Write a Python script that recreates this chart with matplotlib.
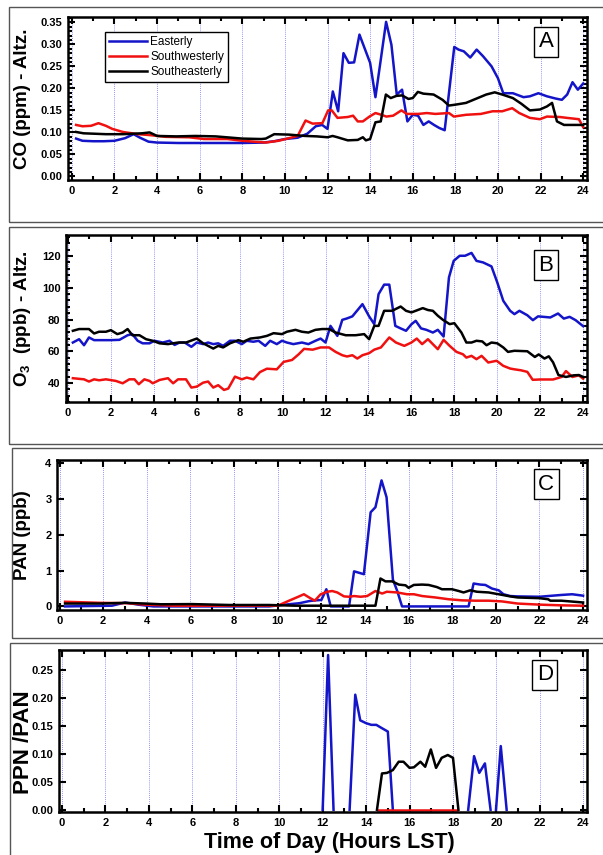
import matplotlib
matplotlib.use("Agg")
import matplotlib.pyplot as plt
import numpy as np
from matplotlib.ticker import MultipleLocator
from matplotlib.patches import Rectangle

plt.rcParams['font.family'] = ['Liberation Sans', 'DejaVu Sans']
plt.rcParams['mathtext.fontset'] = 'custom'
plt.rcParams['mathtext.bf'] = 'Liberation Sans:bold'
plt.rcParams['mathtext.rm'] = 'Liberation Sans'

# Data (hours LST)
series_names = ["Easterly", "Southwesterly", "Southeasterly"]
hour_ticks = list(range(0, 25, 2))

# A: CO (ppm)
co_east_t = [0.2, 0.5, 1.0, 1.5, 2.0, 2.5, 2.9, 3.2, 3.6, 4.0, 5.0, 6.0, 7.0, 8.0, 9.0,
             9.5, 10.0, 10.6, 11.05, 11.45, 11.75, 12.0, 12.25, 12.5, 12.75, 13.0, 13.25,
             13.5, 14.0, 14.25, 14.5, 14.75, 15.0, 15.25, 15.5, 15.75, 16.0, 16.25, 16.5,
             16.75, 17.0, 17.25, 17.5, 17.95, 18.15, 18.4, 18.7, 19.0, 19.3, 19.7, 20.0,
             20.25, 20.7, 21.2, 21.5, 21.9, 22.3, 22.7, 23.0, 23.25, 23.5, 23.75, 24.0]
co_east_v = [0.086, 0.081, 0.080, 0.080, 0.081, 0.087, 0.096, 0.088, 0.079, 0.077, 0.076,
             0.076, 0.076, 0.076, 0.077, 0.080, 0.085, 0.088, 0.097, 0.114, 0.117, 0.108,
             0.193, 0.148, 0.280, 0.258, 0.259, 0.322, 0.258, 0.180, 0.265, 0.351, 0.299,
             0.186, 0.197, 0.125, 0.140, 0.138, 0.117, 0.125, 0.117, 0.110, 0.105, 0.294,
             0.288, 0.284, 0.270, 0.288, 0.273, 0.250, 0.223, 0.189, 0.189, 0.180, 0.182,
             0.189, 0.182, 0.177, 0.174, 0.186, 0.214, 0.197, 0.211]
co_sw_t = [0.2, 0.5, 0.9, 1.25, 1.6, 1.9, 2.4, 3.1, 3.65, 4.4, 5.5, 6.2, 7.3, 8.0, 9.1,
           9.7, 10.2, 10.6, 10.97, 11.3, 11.76, 12.03, 12.2, 12.47, 12.95, 13.2, 13.42,
           13.66, 13.97, 14.25, 14.53, 14.76, 15.08, 15.47, 15.72, 16.27, 16.66, 17.06,
           17.7, 17.93, 18.5, 19.2, 19.75, 20.2, 20.67, 21.0, 21.5, 21.97, 22.3, 22.9,
           23.24, 23.8, 24.0]
co_sw_v = [0.117, 0.114, 0.115, 0.121, 0.115, 0.108, 0.101, 0.096, 0.094, 0.090, 0.089,
           0.085, 0.085, 0.081, 0.077, 0.081, 0.087, 0.092, 0.127, 0.120, 0.121, 0.150,
           0.150, 0.133, 0.135, 0.138, 0.125, 0.125, 0.136, 0.144, 0.140, 0.136, 0.138,
           0.150, 0.142, 0.142, 0.144, 0.142, 0.144, 0.136, 0.140, 0.142, 0.148, 0.148,
           0.155, 0.144, 0.133, 0.130, 0.136, 0.135, 0.133, 0.130, 0.112]
co_se_t = [0.2, 0.55, 1.6, 2.4, 3.3, 3.65, 4.0, 4.9, 5.8, 6.75, 8.0, 8.9, 9.1, 9.5, 10.2,
           10.95, 11.5, 12.0, 12.24, 12.47, 12.95, 13.42, 13.66, 13.8, 14.0, 14.25, 14.5,
           14.74, 14.97, 15.24, 15.5, 15.8, 16.0, 16.24, 16.5, 16.98, 17.4, 17.7, 18.0,
           18.5, 18.8, 19.05, 19.45, 19.85, 20.2, 20.7, 21.1, 21.5, 21.97, 22.3, 22.54,
           22.77, 23.1, 24.0]
co_se_v = [0.101, 0.098, 0.096, 0.096, 0.098, 0.100, 0.092, 0.091, 0.092, 0.091, 0.086,
           0.085, 0.086, 0.096, 0.095, 0.092, 0.091, 0.089, 0.092, 0.089, 0.082, 0.083,
           0.089, 0.082, 0.085, 0.123, 0.125, 0.186, 0.178, 0.183, 0.184, 0.176, 0.178,
           0.192, 0.188, 0.186, 0.174, 0.161, 0.163, 0.167, 0.173, 0.178, 0.186, 0.191,
           0.186, 0.178, 0.165, 0.150, 0.152, 0.159, 0.167, 0.125, 0.117, 0.117]

# B: O3 (ppb)
o3_east_t = [0.23, 0.52, 0.75, 0.98, 1.22, 2.0, 2.4, 2.78, 3.0, 3.25, 3.48, 3.8, 4.03,
             4.42, 4.73, 4.97, 5.2, 5.44, 5.75, 6.0, 6.3, 6.53, 6.77, 7.0, 7.23, 7.55,
             7.78, 8.1, 8.33, 8.64, 8.88, 9.19, 9.42, 9.73, 9.97, 10.2, 10.5, 10.9, 11.2,
             11.53, 11.77, 12.0, 12.23, 12.55, 12.78, 13.0, 13.25, 13.72, 14.03, 14.27,
             14.47, 14.73, 14.97, 15.25, 15.5, 15.75, 16.0, 16.2, 16.45, 16.7, 17.0,
             17.23, 17.5, 17.75, 17.97, 18.25, 18.5, 18.8, 19.03, 19.34, 19.73, 20.0,
             20.28, 20.6, 20.8, 21.03, 21.4, 21.66, 21.9, 22.47, 22.83, 23.1, 23.37,
             23.65, 24.0]
o3_east_v = [65.5, 67.6, 63.8, 68.7, 67.0, 67.0, 67.2, 70.1, 70.8, 66.6, 65.0, 65.0, 66.6,
             65.5, 66.6, 64.0, 65.5, 65.5, 62.8, 65.5, 64.5, 65.5, 64.5, 65.0, 63.4, 66.6,
             66.6, 64.5, 66.6, 66.0, 66.6, 63.4, 66.6, 64.5, 66.6, 65.5, 64.5, 65.5, 64.5,
             66.6, 68.0, 65.5, 76.0, 69.7, 79.8, 80.7, 82.0, 89.7, 82.0, 77.1,
             96.0, 102.0, 102.0, 76.0, 74.4, 72.9, 77.0, 79.2, 74.4, 73.5, 71.8,
             73.5, 69.3, 106.6, 117.0, 120.2, 120.2, 122.0, 117.0, 116.0, 113.5, 103.4,
             91.8, 85.5, 83.4, 85.5, 82.7, 79.6, 82.0, 81.3, 83.8, 80.6, 81.7,
             79.6, 75.8]
o3_sw_t = [0.23, 0.75, 0.98, 1.22, 1.45, 1.77, 2.23, 2.55, 2.86, 3.1, 3.3, 3.56, 3.8,
           3.95, 4.27, 4.66, 4.9, 5.13, 5.5, 5.75, 6.0, 6.3, 6.53, 6.77, 7.0, 7.27, 7.47,
           7.78, 8.1, 8.33, 8.64, 8.95, 9.27, 9.73, 10.05, 10.44, 10.75, 11.0, 11.4,
           11.77, 12.16, 12.47, 12.78, 13.0, 13.25, 13.48, 13.72, 14.03, 14.27, 14.58,
           14.97, 15.28, 15.67, 16.0, 16.25, 16.5, 16.77, 17.23, 17.5, 17.78, 18.1,
           18.4, 18.56, 18.8, 19.03, 19.27, 19.58, 19.97, 20.28, 20.6, 20.8, 21.1,
           21.4, 21.65, 22.0, 22.6, 23.0, 23.2, 23.5, 23.8, 24.0]
o3_sw_v = [43.0, 42.3, 40.9, 42.3, 41.7, 42.3, 41.3, 39.8, 42.3, 42.3, 39.2, 42.3, 41.3,
           39.8, 41.9, 43.0, 39.8, 42.3, 42.3, 37.1, 37.7, 40.2, 40.9, 37.1, 38.6, 35.6,
           36.5, 44.0, 42.3, 43.4, 42.3, 46.9, 49.0, 48.6, 53.3, 54.5, 58.1, 61.5, 61.0,
           62.4, 62.4, 59.6, 57.5, 56.7, 57.5, 55.4, 57.5, 58.8, 61.0, 62.4,
           68.7, 65.5, 63.4, 65.5, 68.0, 64.5, 67.6, 61.3, 67.2, 63.4, 59.6,
           58.1, 56.0, 57.1, 55.0, 57.1, 52.9, 54.0, 50.8, 49.1, 48.6, 48.0,
           47.0, 42.0, 42.2, 42.2, 43.8, 47.5, 43.8, 44.8, 42.7]
o3_se_t = [0.23, 0.52, 0.98, 1.22, 1.45, 1.77, 2.0, 2.3, 2.55, 2.78, 3.0, 3.33, 3.64,
           3.95, 4.27, 4.66, 5.13, 5.5, 6.0, 6.3, 6.77, 7.0, 7.23, 7.55, 7.94, 8.17,
           8.5, 8.95, 9.27, 9.58, 9.97, 10.2, 10.6, 10.9, 11.2, 11.53, 11.84, 12.16,
           12.47, 12.94, 13.4, 13.8, 14.03, 14.27, 14.47, 14.73, 15.1, 15.5, 15.75,
           16.0, 16.2, 16.53, 16.77, 17.0, 17.23, 17.47, 17.78, 18.0, 18.33, 18.56,
           18.8, 19.03, 19.3, 19.5, 19.73, 20.0, 20.28, 20.5, 20.8, 21.4, 21.75, 21.93,
           22.2, 22.4, 22.6, 22.85, 23.2, 23.55, 23.8, 24.0]
o3_se_v = [72.9, 74.0, 74.0, 71.2, 72.3, 72.3, 73.3, 70.8, 71.8, 74.0, 70.1, 70.1, 67.6,
           66.6, 65.0, 64.5, 65.5, 65.5, 68.0, 65.0, 61.7, 63.4, 62.4, 65.0, 67.0, 66.0,
           68.0, 68.7, 69.7, 71.4, 70.8, 72.3, 73.5, 72.3, 71.8, 73.5, 74.0, 74.0,
           71.8, 70.1, 70.1, 70.8, 67.6, 76.0, 76.0, 85.5, 85.5, 88.2, 85.5,
           84.5, 85.5, 87.2, 86.0, 85.5, 82.4, 79.8, 77.1, 77.7, 71.8, 65.5,
           65.5, 66.6, 66.2, 63.8, 65.5, 65.0, 62.4, 59.6, 60.3, 60.0, 56.4, 58.0,
           55.4, 56.8, 53.0, 45.0, 43.8, 44.8, 45.0, 43.8]

# C: PAN (ppb)
pan_east_t = [0.25, 2.4, 3.0, 3.6, 4.3, 6.1, 9.6, 10.5, 11.0, 11.45, 11.75, 12.0, 12.23,
              12.43, 13.27, 13.5, 13.95, 14.26, 14.48, 14.76, 14.99, 15.28, 15.48, 15.7,
              18.75, 18.98, 19.29, 19.52, 19.82, 20.13, 20.35, 20.66, 21.0, 22.0, 23.0,
              23.5, 24.0]
pan_east_v = [0.0, 0.02, 0.11, 0.05, 0.0, 0.0, 0.0, 0.06, 0.09, 0.15, 0.17, 0.18, 0.48,
              0.0, 0.0, 0.98, 0.90, 2.63, 2.77, 3.52, 3.05, 0.75, 0.43, 0.0,
              0.0, 0.64, 0.61, 0.60, 0.50, 0.45, 0.34, 0.29, 0.28, 0.27, 0.32,
              0.34, 0.30]
pan_sw_t = [0.25, 0.8, 1.85, 3.1, 3.95, 5.2, 10.0, 10.52, 10.98, 11.2, 11.44, 11.7, 11.97,
            12.27, 12.5, 12.73, 13.04, 13.27, 13.5, 13.8, 14.1, 14.48, 14.79, 15.0, 15.48,
            15.93, 16.24, 16.62, 17.23, 17.84, 18.45, 19.06, 19.67, 20.28, 21.0, 22.0,
            23.0, 24.0]
pan_sw_v = [0.13, 0.12, 0.10, 0.09, 0.05, 0.02, 0.02, 0.16, 0.28, 0.34, 0.25, 0.16, 0.34,
            0.41, 0.43, 0.39, 0.28, 0.27, 0.29, 0.27, 0.29, 0.43, 0.36, 0.41, 0.39,
            0.34, 0.34, 0.29, 0.25, 0.20, 0.17, 0.16, 0.16, 0.14, 0.08, 0.05,
            0.03, 0.02]
pan_se_t = [0.25, 0.8, 1.85, 3.0, 3.95, 4.65, 6.06, 7.8, 9.6, 10.8, 14.48, 14.71, 14.94,
            15.25, 15.55, 15.86, 16.0, 16.24, 16.62, 16.92, 17.3, 17.53, 17.99, 18.3,
            18.52, 18.83, 19.13, 19.67, 20.13, 20.66, 21.0, 22.0, 22.4, 22.5, 23.0, 24.0]
pan_se_v = [0.08, 0.08, 0.08, 0.10, 0.08, 0.06, 0.065, 0.04, 0.04, 0.02, 0.02, 0.78, 0.70,
            0.70, 0.61, 0.59, 0.52, 0.60, 0.61, 0.60, 0.54, 0.48, 0.48, 0.43,
            0.39, 0.45, 0.41, 0.39, 0.34, 0.28, 0.25, 0.23, 0.20, 0.16, 0.16, 0.11]

# D: PPN/PAN ratio (gaps as nan)
ppn_east_t = [12.0, 12.25, 12.5, 12.9, 13.24, 13.5, 13.73, 14.0, 14.24, 14.47, 14.73, 15.0,
              15.23, 17.0, 18.7, 18.97, 19.21, 19.47, 19.73, 19.85, 19.98, 20.2, 20.47]
ppn_east_v = [0.0, 0.277, 0.0, np.nan, 0.0, 0.206, 0.160, 0.155, 0.152, 0.152, 0.146, 0.140,
              0.0, np.nan, 0.0, 0.096, 0.066, 0.083, 0.0, np.nan, 0.0, 0.114, 0.0]
ppn_sw_t = [14.55, 18.2]
ppn_sw_v = [0.0, 0.0]
ppn_se_t = [14.5, 14.73, 14.96, 15.23, 15.5, 15.72, 16.0, 16.2, 16.5, 16.72, 16.98, 17.22,
            17.48, 17.76, 18.0, 18.25]
ppn_se_v = [0.0, 0.065, 0.066, 0.071, 0.086, 0.086, 0.075, 0.076, 0.086, 0.077, 0.108,
            0.075, 0.093, 0.098, 0.093, 0.0]

colors = ['#1414c8', '#f01010', 'black']

W, H = 603, 855
fig = plt.figure(figsize=(W / 100, H / 100), dpi=100)


def px_axes(left, top, right, bottom):
    return fig.add_axes([left / W, 1 - bottom / H, (right - left) / W, (bottom - top) / H])


def frame(left, top, right, bottom):
    fig.add_artist(Rectangle((left / W, 1 - bottom / H), (right - left) / W, (bottom - top) / H,
                             transform=fig.transFigure, fill=False, ec='#555555', lw=1.0))


def style(ax, xlim, ylim, yticks, yfmt, yminor=None):
    ax.set_xlim(*xlim)
    ax.set_ylim(*ylim)
    ax.set_xticks(hour_ticks)
    ax.set_xticklabels([str(h) for h in hour_ticks], fontweight='bold')
    ax.xaxis.set_minor_locator(MultipleLocator(1))
    ax.set_yticks(yticks)
    ax.set_yticklabels([yfmt % y for y in yticks], fontweight='bold')
    if yminor:
        ax.yaxis.set_minor_locator(MultipleLocator(yminor))
    ax.tick_params(which='both', direction='in', top=True, right=True, width=1.5)
    ax.tick_params(which='major', length=5, labelsize=8, pad=4)
    ax.tick_params(which='minor', length=3)
    for s in ax.spines.values():
        s.set_linewidth(1.8)
    ax.grid(axis='x', which='major', color='#6f6fff', lw=0.6, ls=(0, (1, 1.5)))
    ax.set_axisbelow(True)


def panel_label(ax, text, x, y):
    ax.text(x, y, text, transform=ax.transAxes, ha='center', va='center', fontsize=16,
            bbox=dict(boxstyle='square,pad=0.2', fc='white', ec='black', lw=1))


# Panel frames
frame(9, 7, 610, 222)
frame(9, 227, 610, 444)
frame(12, 448, 610, 638)
frame(10, 643, 610, 860)

# A
axA = px_axes(68, 17, 587, 180)
for t, v, c, n in zip([co_east_t, co_sw_t, co_se_t], [co_east_v, co_sw_v, co_se_v], colors, series_names):
    axA.plot(t, v, color=c, lw=1.8, label=n)
style(axA, (-0.18, 24.18), (-0.008, 0.362), [0, 0.05, 0.10, 0.15, 0.20, 0.25, 0.30, 0.35], '%.2f', 0.01)
axA.set_ylabel('CO (ppm) - Altz.', fontsize=13.5, fontweight='bold', va='center')
axA.yaxis.set_label_coords(-0.088, 0.5)
leg = axA.legend(loc='upper left', bbox_to_anchor=(0.071, 0.908), fontsize=8.5, frameon=True,
                 fancybox=False, edgecolor='black', framealpha=1, handlelength=3.2,
                 handletextpad=0.3, labelspacing=0.25, borderpad=0.35, borderaxespad=0)
leg.get_frame().set_linewidth(1.0)
panel_label(axA, 'A', 0.921, 0.847)

# B
axB = px_axes(66, 235, 587, 402)
for t, v, c in zip([o3_east_t, o3_sw_t, o3_se_t], [o3_east_v, o3_sw_v, o3_se_v], colors):
    axB.plot(t, v, color=c, lw=1.8)
style(axB, (-0.09, 24.18), (28, 133.3), [40, 60, 80, 100, 120], '%d', 4)
axB.set_ylabel(r'O$_\mathbf{3}$  (ppb) - Altz.', fontsize=13.5, fontweight='bold', va='center')
axB.yaxis.set_label_coords(-0.084, 0.5)
panel_label(axB, 'B', 0.921, 0.82)

# C
axC = px_axes(57, 460, 587, 610)
for t, v, c in zip([pan_east_t, pan_sw_t, pan_se_t], [pan_east_v, pan_sw_v, pan_se_v], colors):
    axC.plot(t, v, color=c, lw=1.8)
style(axC, (-0.12, 24.18), (-0.1, 4.09), [0, 1, 2, 3, 4], '%d')
axC.set_ylabel('PAN (ppb)', fontsize=13.5, fontweight='bold', va='center')
axC.yaxis.set_label_coords(-0.066, 0.5)
panel_label(axC, 'C', 0.923, 0.84)

# D
axD = px_axes(59, 650, 587, 812)
for t, v, c in zip([ppn_east_t, ppn_sw_t, ppn_se_t], [ppn_east_v, ppn_sw_v, ppn_se_v], colors):
    axD.plot(t, v, color=c, lw=1.8)
style(axD, (-0.14, 24.17), (-0.004, 0.286), [0, 0.05, 0.10, 0.15, 0.20, 0.25], '%.2f')
axD.set_ylabel('PPN /PAN', fontsize=16, fontweight='bold', va='center')
axD.yaxis.set_label_coords(-0.068, 0.43)
axD.set_xlabel('Time of Day (Hours LST)', fontsize=15.5, fontweight='bold', va='center')
axD.xaxis.set_label_coords(0.513, -0.19)
panel_label(axD, 'D', 0.92, 0.846)

fig.savefig('out.png', dpi=100)
